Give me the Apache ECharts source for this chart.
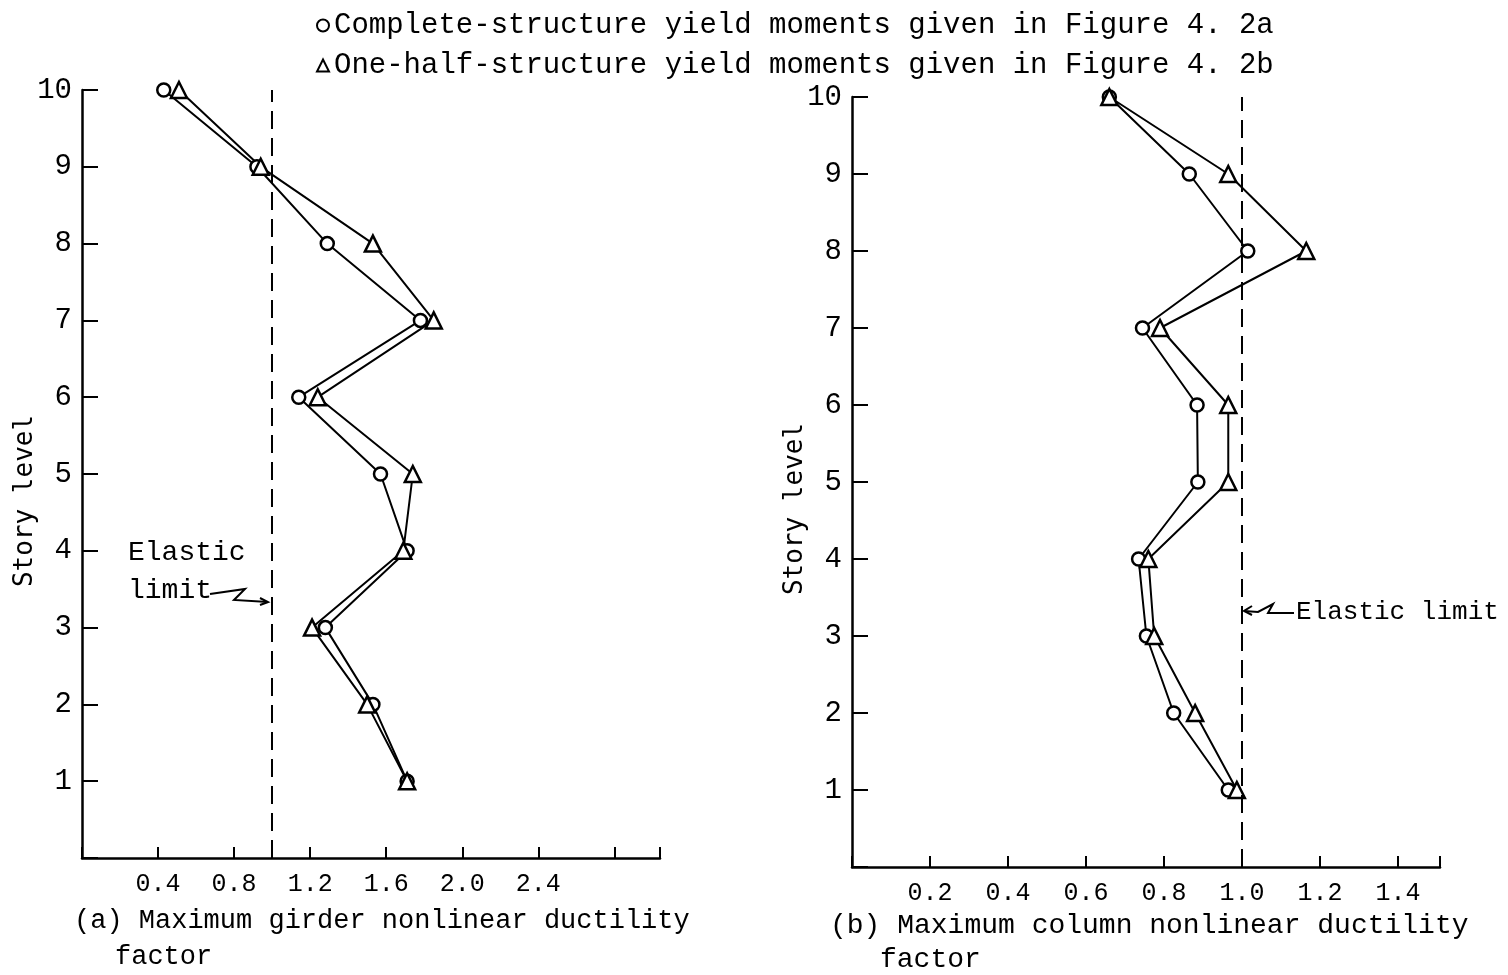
<!DOCTYPE html>
<html>
<head>
<meta charset="utf-8">
<script src="https://cdn.jsdelivr.net/npm/echarts@6/dist/echarts.min.js"></script>
<style>
html,body{margin:0;padding:0;background:#fff;}
#chart{width:1508px;height:975px;}
</style>
</head>
<body>
<div id="chart"></div>
<script>
// ---- data ----
const storyLevels = [10, 9, 8, 7, 6, 5, 4, 3, 2, 1];
const girderComplete = [0.43, 0.92, 1.29, 1.78, 1.14, 1.57, 1.71, 1.28, 1.53, 1.71];
const girderHalf     = [0.51, 0.94, 1.53, 1.85, 1.24, 1.74, 1.69, 1.21, 1.50, 1.71];
const columnComplete = [0.66, 0.865, 1.015, 0.745, 0.885, 0.887, 0.735, 0.755, 0.825, 0.965];
const columnHalf     = [0.66, 0.965, 1.165, 0.79, 0.965, 0.965, 0.76, 0.775, 0.88, 0.987];
const elasticLimit = 1.0;
const girderTickLabels = [0.4, 0.8, 1.2, 1.6, 2.0, 2.4];
const columnTickLabels = [0.2, 0.4, 0.6, 0.8, 1.0, 1.2, 1.4];
const yTickLabels = [1, 2, 3, 4, 5, 6, 7, 8, 9, 10];
const seriesNames = [
  'Complete-structure yield moments given in Figure 4. 2a',
  'One-half-structure yield moments given in Figure 4. 2b'
];
const captionA = ['(a) Maximum girder nonlinear ductility', 'factor'];
const captionB = ['(b) Maximum column nonlinear ductility', 'factor'];
const yName = 'Story level';
const elasticText = ['Elastic', 'limit'];

// ---- helpers ----
const FONT = 'Liberation Mono';
const SANS = 'DejaVu Sans Mono';
function pairs(xs){ return xs.map((v,i)=>[v, storyLevels[i]]); }
function fmt(list){ return function(v){ const r=Math.round(v*10)/10; return list.some(t=>Math.abs(t-r)<1e-6 && Math.abs(v-r)<1e-6) ? r.toFixed(1) : ''; }; }

const chart = echarts.init(document.getElementById('chart'));

function xAxisCfg(gridIndex, max, interval, labels){
  return {
    type:'value', gridIndex, min:0, max, interval,
    axisLine:{show:true, onZero:false, lineStyle:{color:'#000', width:2.5}},
    axisTick:{show:true, inside:true, length:11, lineStyle:{color:'#000', width:2}},
    splitLine:{show:false},
    axisLabel:{color:'#000', fontFamily:FONT, fontSize:25, margin:14, formatter:fmt(labels), showMinLabel:true, showMaxLabel:true}
  };
}
function yAxisCfg(gridIndex){
  return {
    type:'value', gridIndex, min:0, max:10, interval:1,
    axisLine:{show:true, onZero:false, lineStyle:{color:'#000', width:2.5}},
    axisTick:{show:true, inside:true, length:16, lineStyle:{color:'#000', width:2}},
    splitLine:{show:false},
    axisLabel:{color:'#000', fontFamily:FONT, fontSize:29, margin:10,
      formatter:function(v){ return yTickLabels.indexOf(v)>=0 ? String(v) : ''; }}
  };
}
function lineSeries(name, data, xi, symbol, size, withMark){
  const s = {
    name, type:'line', xAxisIndex:xi, yAxisIndex:xi, data:pairs(data),
    symbol, symbolSize:size, showAllSymbol:true,
    lineStyle:{color:'#000', width:2},
    itemStyle:{color:'#fff', borderColor:'#000', borderWidth:2.5},
    emphasis:{disabled:true}, z:3
  };
  if(withMark){
    s.markLine = {
      silent:true, symbol:['none','none'], label:{show:false},
      lineStyle:{color:'#000', type:[18,9], width:2},
      data:[{xAxis:elasticLimit}]
    };
  }
  return s;
}

function zig(points){ return {type:'polyline', shape:{points}, style:{stroke:'#000', lineWidth:2, fill:null}}; }
const TXT = function(t, l, tp, size){ return {type:'text', left:l, top:tp, style:{text:t, font:(size||28)+'px "'+FONT+'"', fill:'#000'}}; };
const VTXT = function(t, cx, cy){ return {type:'text', x:cx, y:cy, rotation:Math.PI/2, style:{text:t, font:'26px "'+SANS+'"', fill:'#000', align:'center', verticalAlign:'middle'}}; };

const option = {
  backgroundColor:'#fff',
  animation:false,
  legend:{
    orient:'vertical', left:311, top:6, itemGap:11, itemWidth:12, itemHeight:12,
    selectedMode:false,
    textStyle:{color:'#000', fontFamily:FONT, fontSize:29},
    data:[{name:seriesNames[0], icon:'circle'}, {name:seriesNames[1], icon:'triangle'}]
  },
  grid:[
    {left:82, top:90, width:578, height:768},
    {left:852, top:97, width:588, height:770}
  ],
  xAxis:[
    xAxisCfg(0, 3.04, 0.4, girderTickLabels),
    xAxisCfg(1, 1.508, 0.2, columnTickLabels)
  ],
  yAxis:[ yAxisCfg(0), yAxisCfg(1) ],
  series:[
    lineSeries(seriesNames[0], girderComplete, 0, 'circle', 13, true),
    lineSeries(seriesNames[1], girderHalf, 0, 'triangle', 16, false),
    lineSeries(seriesNames[0], columnComplete, 1, 'circle', 13, true),
    lineSeries(seriesNames[1], columnHalf, 1, 'triangle', 16, false)
  ],
  graphic:[
    VTXT(yName, 25, 501),
    VTXT(yName, 795, 509),
    TXT(captionA[0], 74, 907, 27),
    TXT(captionA[1], 115, 943, 27),
    TXT(captionB[0], 830, 912, 28),
    TXT(captionB[1], 880, 946, 28),
    TXT(elasticText[0], 128, 539),
    TXT(elasticText[1], 128, 577),
    zig([[210,594],[245,589],[234,600],[268,602]]),
    zig([[260,598],[268,602],[260,605]]),
    TXT(elasticText.join(' '), 1296, 599, 26),
    zig([[1294,613],[1268,613],[1273,604],[1258,612],[1244,611]]),
    zig([[1252,606],[1244,611],[1252,615]])
  ]
};
chart.setOption(option);
</script>
</body>
</html>
